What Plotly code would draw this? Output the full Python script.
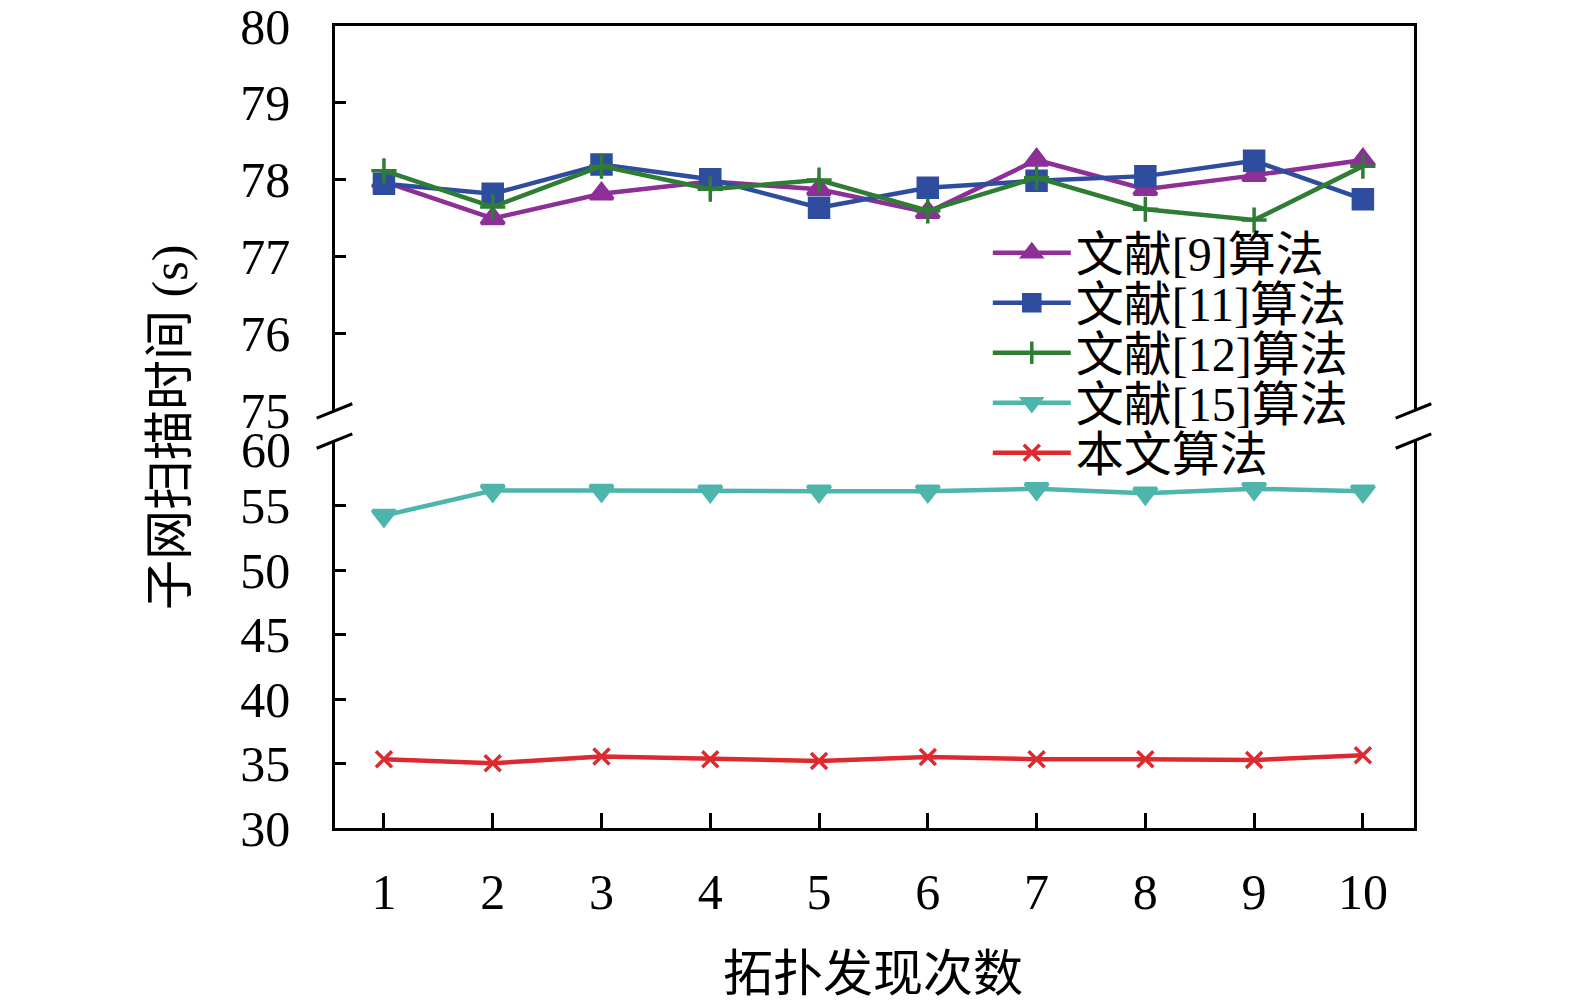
import plotly.graph_objects as go

# --- data ------------------------------------------------------------------

runs = [1, 2, 3, 4, 5, 6, 7, 8, 9, 10]

ref9 = [77.98, 77.50, 77.82, 77.98, 77.88, 77.58, 78.26, 77.88, 78.06, 78.26]
ref11 = [77.95, 77.82, 78.20, 78.01, 77.64, 77.90, 77.99, 78.05, 78.25, 77.75]
ref12 = [78.12, 77.65, 78.18, 77.88, 78.00, 77.60, 78.03, 77.62, 77.48, 78.18]
ref15 = [54.22, 56.16, 56.16, 56.11, 56.11, 56.11, 56.30, 55.95, 56.30, 56.11]
ours = [35.33, 35.02, 35.54, 35.33, 35.20, 35.51, 35.33, 35.33, 35.28, 35.64]

names = ["文献[9]算法", "文献[11]算法", "文献[12]算法", "文献[15]算法", "本文算法"]

top_ticks = [75, 76, 77, 78, 79, 80]
bottom_ticks = [30, 35, 40, 45, 50, 55, 60]
# the "60" label sits a little below its tick in the original, so it is
# drawn separately as an annotation
bottom_labels = ["30", "35", "40", "45", "50", "55", ""]

FONT = "Liberation Serif, Times New Roman, Noto Sans CJK SC, serif"

# --- figure ----------------------------------------------------------------

fig = go.Figure()

styles = [
    (ref9, "#8e2f98", "triangle-up", 20, "y2"),
    (ref11, "#2e4d9f", "square", 19, "y2"),
    (ref12, "#2f7d34", "cross-thin", 18, "y2"),
    (ref15, "#4db5ab", "triangle-down", 20, "y"),
    (ours, "#dd2a30", "x-thin", 16, "y"),
]

# one small legend per series so the row spacing can follow the reference
legend_names = ["legend", "legend2", "legend3", "legend4", "legend5"]

for i, ((vals, color, sym, size, yax), name) in enumerate(zip(styles, names)):
    fig.add_trace(go.Scatter(
        x=runs, y=vals, name=name, yaxis=yax,
        xaxis="x" if yax == "y" else "x2",
        mode="lines+markers", legend=legend_names[i],
        line=dict(color=color, width=4.5),
        marker=dict(symbol=sym, size=size, color=color,
                    line=dict(color=color, width=3.5)),
    ))

axis_common = dict(
    showline=True, linecolor="black", linewidth=2.5,
    ticks="inside", tickcolor="black", tickwidth=2.5,
    showgrid=False, zeroline=False, automargin=False,
    ticklabeloverflow="allow",
    tickfont=dict(family=FONT, size=50, color="black"),
)

# plot area spans 802 px; rows are given in px below its top edge
PLOT_W = 1079
PLOT_H = 802
legend_rows = {}
for i, ln in enumerate(legend_names):
    yc = 227 + 50 * i
    legend_rows[ln] = dict(
        x=0.605, y=1 - yc / PLOT_H, xanchor="left", yanchor="middle",
        bgcolor="rgba(0,0,0,0)", itemwidth=78,
        font=dict(family=FONT, size=48, color="black"),
    )

fig.update_layout(
    width=1575, height=1001,
    margin=dict(l=327, r=169, t=18, b=181),
    paper_bgcolor="white", plot_bgcolor="white",
    font=dict(family=FONT, color="black"),
    xaxis=dict(
        **axis_common, range=[0.55, 10.47], tickvals=runs,
        ticklen=15, ticklabelstandoff=18, anchor="y",
    ),
    xaxis2=dict(
        showline=True, linecolor="black", linewidth=2.5, side="top",
        range=[0.55, 10.47], showticklabels=False, ticks="",
        showgrid=False, zeroline=False, anchor="y2", matches="x",
        automargin=False,
    ),
    yaxis=dict(
        **axis_common, domain=[0, 0.4825], range=[30, 60],
        tickvals=bottom_ticks, ticktext=bottom_labels,
        ticklen=11, mirror=True, ticklabelstandoff=32,
    ),
    yaxis2=dict(
        **axis_common, domain=[0.52, 1], range=[75, 80],
        tickvals=top_ticks, ticklen=11, mirror=True,
        ticklabelstandoff=32, anchor="x2",
    ),
    showlegend=True,
    **legend_rows,
)

fig.add_annotation(text=str(bottom_ticks[-1]), xref="paper", yref="y",
                   x=-42 / PLOT_W, y=bottom_ticks[-1], yshift=-9,
                   xanchor="right", yanchor="middle", showarrow=False,
                   font=dict(family=FONT, size=50, color="black"))

# axis break marks on both sides
for x0 in (0, 1):
    for yc in (0.52, 0.4825):
        fig.add_shape(type="line", xref="paper", yref="paper",
                      x0=x0 - 0.017, x1=x0 + 0.016,
                      y0=yc - 0.009, y1=yc + 0.009,
                      line=dict(color="black", width=3))

fig.add_annotation(text="子网扫描时间 (s)", xref="paper", yref="paper",
                   x=-0.153, y=0.5, xanchor="center", yanchor="middle",
                   textangle=-90, showarrow=False,
                   font=dict(family=FONT, size=50, color="black"))
fig.add_annotation(text="拓扑发现次数", xref="paper", yref="paper",
                   x=0.499, y=-0.182, xanchor="center", yanchor="middle",
                   showarrow=False,
                   font=dict(family=FONT, size=50, color="black"))

fig.write_html("out.html")
